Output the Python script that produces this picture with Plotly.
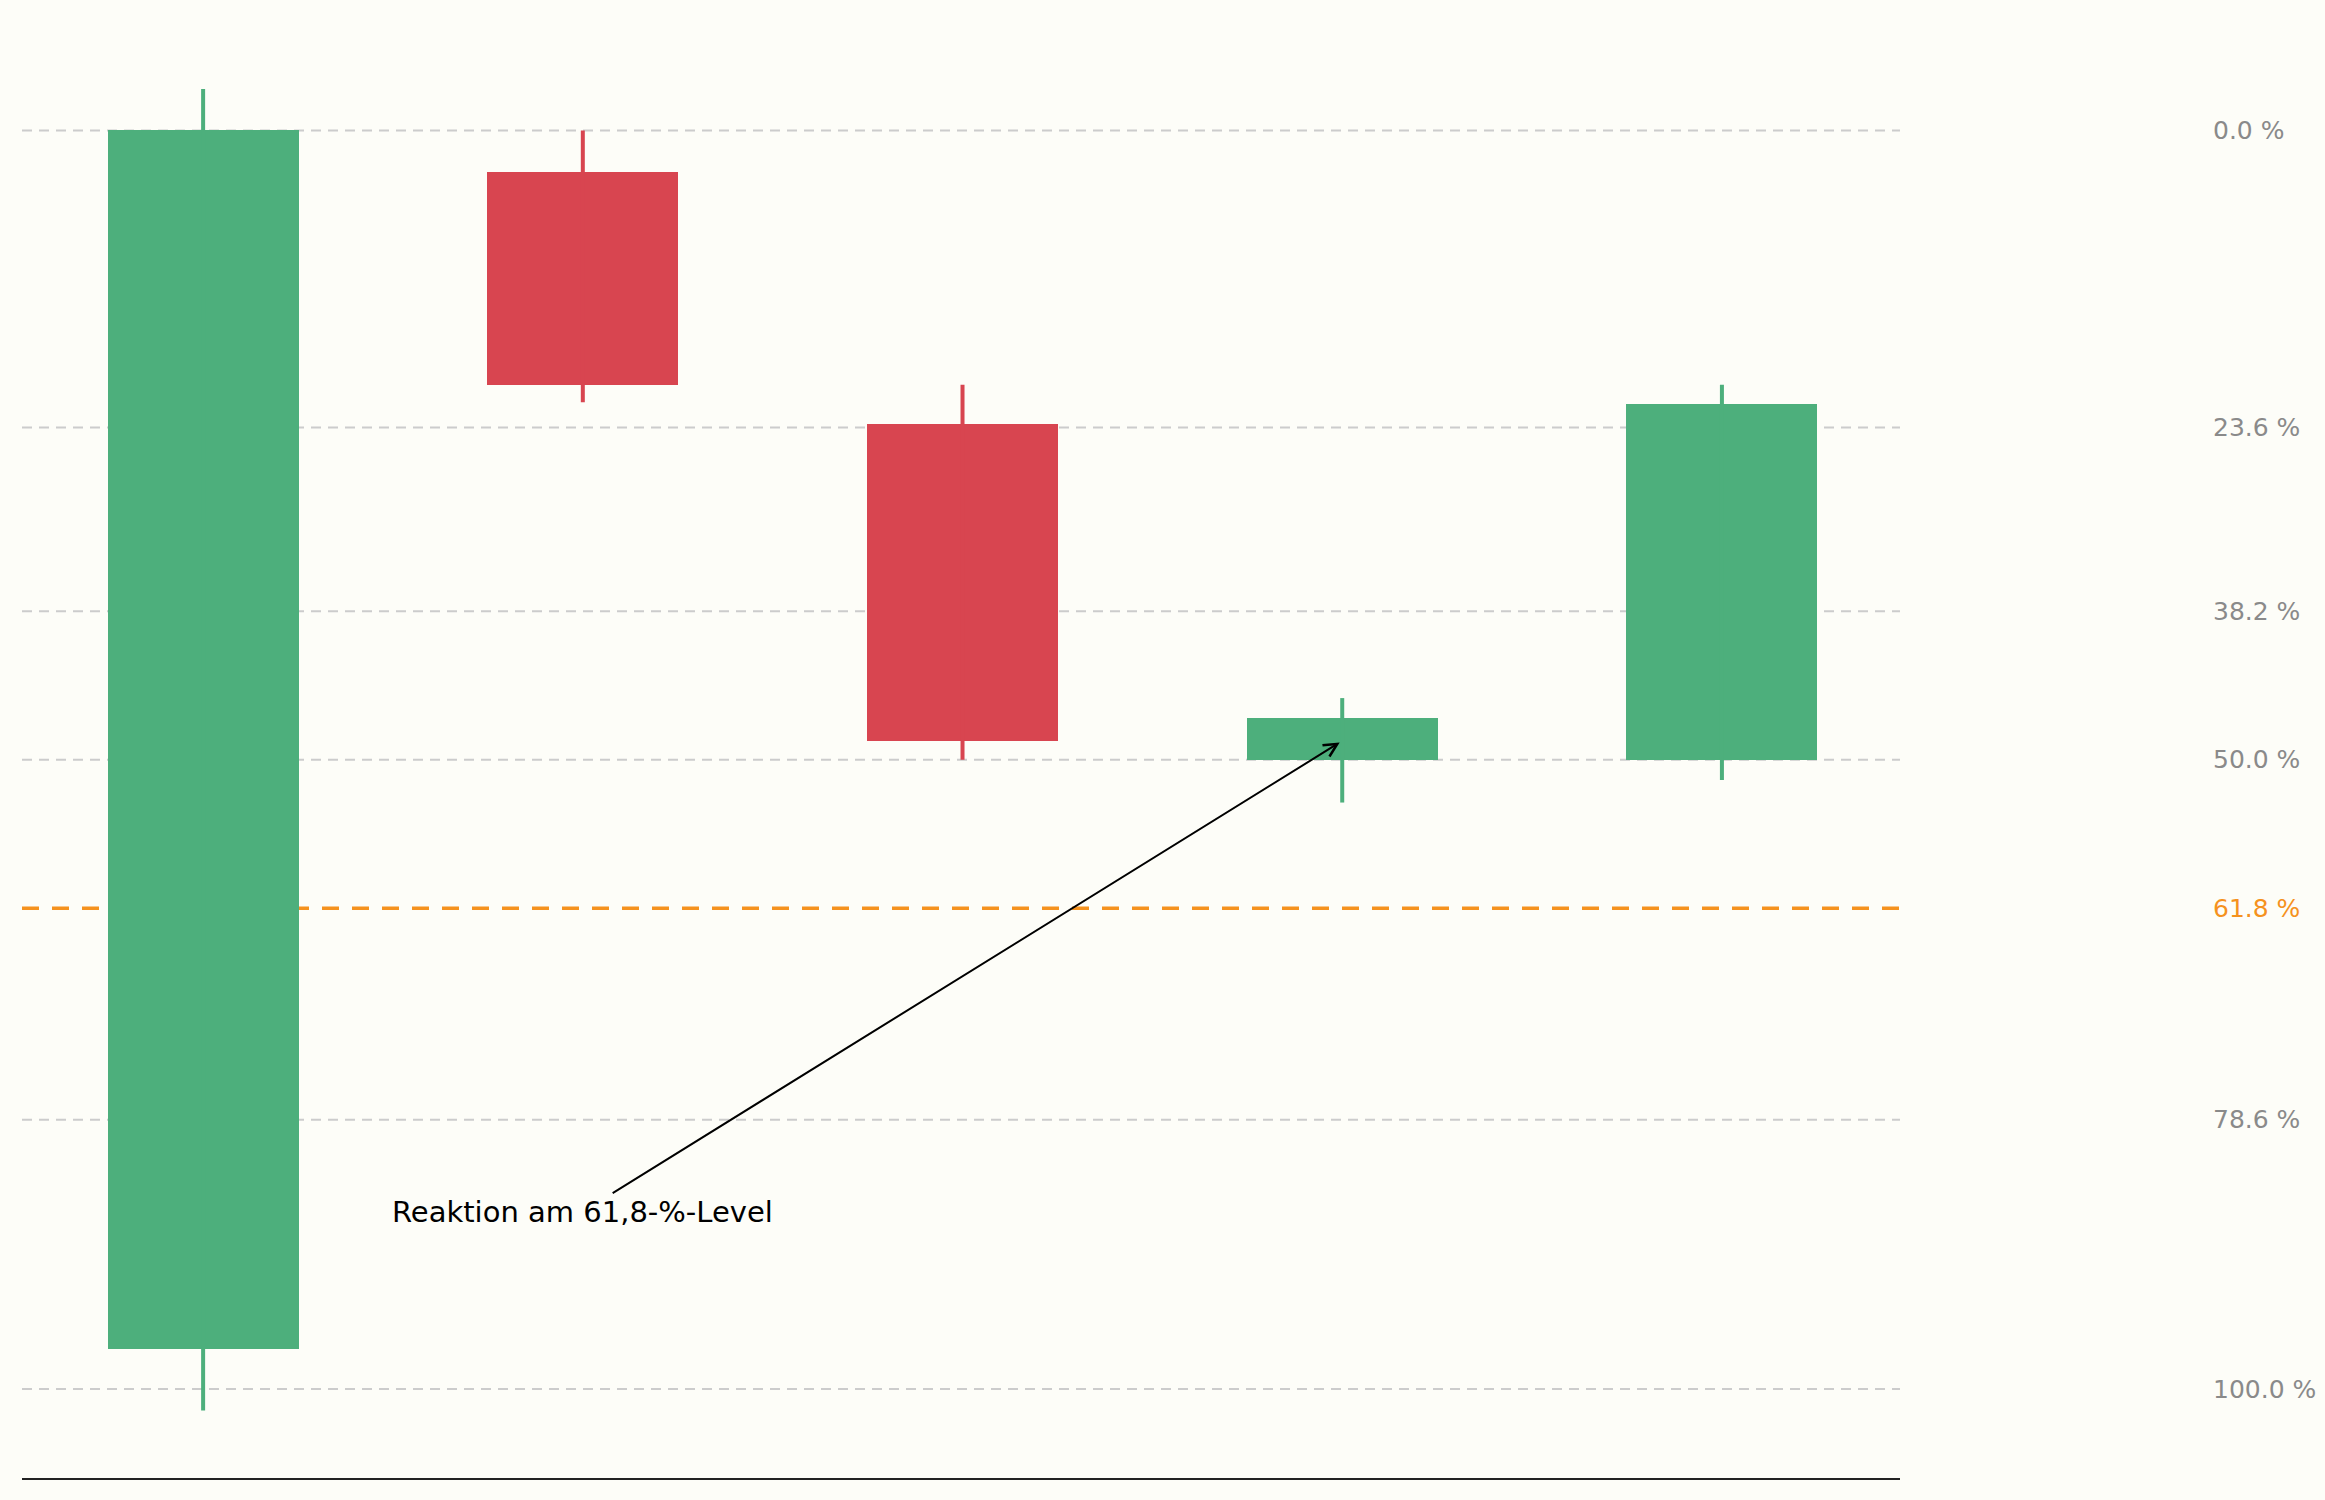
import plotly.graph_objects as go

# candle data (price scale: 100 = swing high, 0 = swing low)
candles = [0, 1, 2, 3, 4]
opens = [3.2, 96.7, 76.7, 50.0, 50.0]
highs = [103.3, 100.0, 79.8, 54.9, 79.8]
lows = [-1.7, 78.4, 50.0, 46.6, 48.4]
closes = [100.0, 79.8, 51.5, 53.3, 78.3]

# fibonacci retracement levels in percent
fib_levels = [0.0, 23.6, 38.2, 50.0, 61.8, 78.6, 100.0]
fib_labels = ['0.0 %', '23.6 %', '38.2 %', '50.0 %', '61.8 %', '78.6 %', '100.0 %']
key_level = 61.8

note_text = 'Reaktion am 61,8-%-Level'
note_x, note_y = 1.0, 14.1
note_target_x, note_target_y = 3.0, 51.5

green = '#4daf7c'
red = '#d84550'
orange = '#f5921e'
grey_line = '#cccccc'
grey_text = '#8a8a8a'
background = '#fdfdf8'

swing_high = 100.0
swing_low = 0.0


def level_price(pct):
    return swing_high - (swing_high - swing_low) * pct / 100


figure = go.Figure()

colors = [green if c >= o else red for o, c in zip(opens, closes)]

# bodies
figure.add_trace(go.Bar(
    x=candles,
    base=[min(o, c) for o, c in zip(opens, closes)],
    y=[abs(c - o) for o, c in zip(opens, closes)],
    width=0.503,
    marker=dict(color=colors, line=dict(width=0)),
    hoverinfo='skip',
    showlegend=False
))

# wicks
for color in [green, red]:
    wick_x = []
    wick_y = []
    for i, candle in enumerate(candles):
        if colors[i] == color:
            wick_x += [candle, candle, None]
            wick_y += [lows[i], highs[i], None]
    figure.add_trace(go.Scatter(
        x=wick_x,
        y=wick_y,
        mode='lines',
        line=dict(color=color, width=4),
        hoverinfo='skip',
        showlegend=False
    ))

# retracement lines and labels
for pct, label in zip(fib_levels, fib_labels):
    is_key = pct == key_level
    figure.add_shape(
        type='line', xref='paper', yref='y',
        x0=0, x1=1, y0=level_price(pct), y1=level_price(pct),
        line=dict(color=orange if is_key else grey_line,
                  width=3.3 if is_key else 2,
                  dash='17px,13px' if is_key else '10px,7px'),
        layer='below'
    )
    figure.add_annotation(
        xref='paper', yref='y',
        x=1.1655, y=level_price(pct),
        text=label, showarrow=False,
        xanchor='left', yanchor='middle',
        font=dict(size=25, color=orange if is_key else grey_text)
    )

figure.add_annotation(
    x=note_target_x, y=note_target_y,
    ax=note_x, ay=note_y,
    xref='x', yref='y', axref='x', ayref='y',
    text=note_text,
    showarrow=True,
    arrowhead=5, arrowsize=1.3, arrowwidth=2, arrowcolor='black',
    standoff=3,
    font=dict(size=29, color='black')
)

figure.update_xaxes(
    range=[-0.477, 4.469],
    showgrid=False, zeroline=False, showticklabels=False, ticks='',
    showline=True, linecolor='#222222', linewidth=2
)
figure.update_yaxes(range=[-7.07, 108.62], visible=False)

figure.update_layout(
    autosize=False,
    width=2325,
    height=1500,
    margin={'l': 22, 'r': 425, 't': 22, 'b': 22},
    paper_bgcolor=background,
    plot_bgcolor=background,
    font=dict(family='DejaVu Sans'),
    bargap=0
)

# drop the default page margin so the figure sits at the window corner
figure.write_html('out.html',
                  config={'displayModeBar': False},
                  post_script="document.body.style.margin='0';document.body.style.overflow='hidden';document.body.style.background='%s';" % background)
